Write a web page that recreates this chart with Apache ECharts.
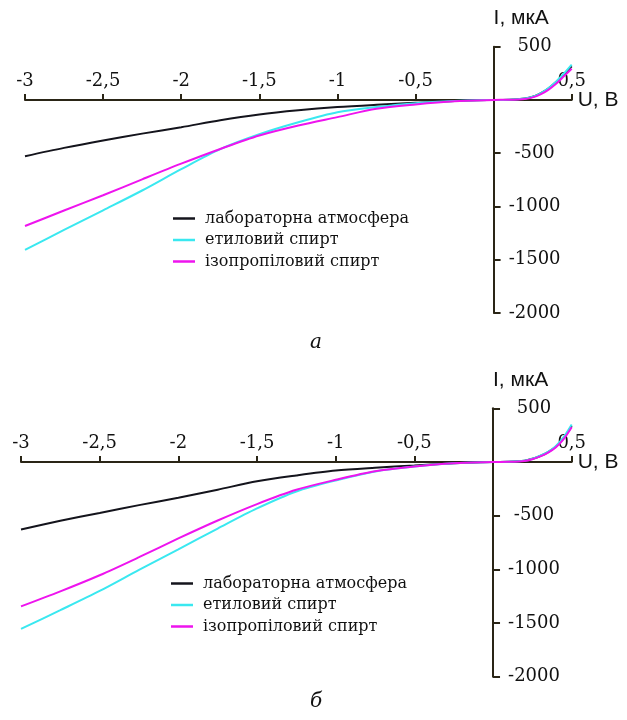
<!DOCTYPE html>
<html>
<head>
    <meta charset="utf-8">
    <title>ВАХ</title>
    <script src="https://cdn.jsdelivr.net/npm/echarts@6/dist/echarts.min.js"></script>
    <style>
        html, body { margin: 0; padding: 0; background: #fff; }
    </style>
</head>
<body>
    <div id="main" style="width: 627px;height:720px"></div>
    <script type="text/javascript">
        var myChart = echarts.init(document.getElementById('main'), null, { renderer: 'canvas' });

        // voltage, V
        var volts = [-3, -2.75, -2.5, -2.25, -2, -1.75, -1.5, -1.25, -1, -0.75, -0.5, -0.25, 0,
                     0.1, 0.2, 0.25, 0.3, 0.35, 0.4, 0.45, 0.5];

        var seriesNames = ['лабораторна атмосфера', 'етиловий спирт', 'ізопропіловий спирт'];
        var seriesColors = ['#14141c', '#3ae8f0', '#ee14ee'];

        // panel a, current, uA
        var labA = [-528, -450, -380, -316, -256, -190, -136, -97, -67, -45, -26, -9, 0,
                    2, 14, 30, 62, 108, 168, 240, 315];
        var ethA = [-1408, -1220, -1036, -850, -650, -462, -322, -210, -116, -67, -30, -10, 0,
                    2, 14, 30, 62, 110, 172, 248, 332];
        var isoA = [-1183, -1038, -895, -745, -598, -460, -333, -239, -161, -83, -42, -12, 0,
                    2, 10, 24, 52, 95, 152, 222, 293];

        // panel б, current, uA
        var labB = [-628, -548, -475, -402, -333, -258, -180, -126, -80, -54, -33, -12, 0,
                    2, 12, 30, 56, 92, 145, 225, 335];
        var ethB = [-1555, -1380, -1201, -1005, -813, -620, -433, -275, -172, -88, -42, -12, 0,
                    2, 12, 30, 58, 95, 150, 235, 350];
        var isoB = [-1345, -1205, -1055, -887, -712, -545, -392, -259, -166, -86, -42, -12, 0,
                    2, 10, 26, 52, 88, 138, 215, 324];

        var panelCaptions = ['а', 'б'];

        function pairs(values) {
            return volts.map(function (v, i) { return [v, values[i]]; });
        }

        var axisColor = '#2a2516';
        var serifFont = 'DejaVu Serif';
        var sansFont = 'Liberation Sans';

        // grids: both axes cross at the origin, so axes are shifted into the plot
        var grids = [
            { left: 25, width: 546.7, top: 46.7, height: 266.3, outerBoundsMode: 'none', containLabel: false },
            { left: 21, width: 550.7, top: 408.3, height: 268.4, outerBoundsMode: 'none', containLabel: false }
        ];

        function xShift(g) { return -g.height * 2000 / 2500; }  // bottom -> y = 0
        function yShift(g) { return -g.width * 3 / 3.5; }        // left -> x = 0

        function makeXAxis(idx) {
            return {
                gridIndex: idx,
                type: 'value',
                position: 'bottom',
                offset: xShift(grids[idx]),
                min: -3,
                max: 0.5,
                interval: 0.5,
                name: 'U, В',
                nameLocation: 'end',
                nameGap: 6,
                nameMoveOverlap: false,
                nameTextStyle: { fontFamily: sansFont, fontSize: 21, color: '#111', verticalAlign: 'middle' },
                axisLine: { onZero: false, lineStyle: { color: axisColor, width: 2 } },
                axisTick: { inside: true, length: 6, lineStyle: { color: axisColor, width: 2 } },
                axisLabel: {
                    inside: true,
                    margin: 10,
                    fontFamily: serifFont,
                    fontSize: 18,
                    color: '#111',
                    formatter: function (v) {
                        return v === 0 ? '' : String(v).replace('.', ',');
                    }
                },
                splitLine: { show: false }
            };
        }

        function makeYAxis(idx) {
            return {
                gridIndex: idx,
                type: 'value',
                position: 'left',
                offset: yShift(grids[idx]),
                min: -2000,
                max: 500,
                interval: 500,
                name: 'I, мкА',
                nameLocation: 'end',
                nameGap: 18,
                nameMoveOverlap: false,
                nameTextStyle: { fontFamily: sansFont, fontSize: 21, color: '#111', align: 'left' },
                axisLine: { onZero: false, lineStyle: { color: axisColor, width: 2 } },
                axisTick: { inside: true, length: 7, lineStyle: { color: axisColor, width: 2 } },
                axisLabel: {
                    inside: true,
                    margin: 41,
                    align: 'center',
                    fontFamily: serifFont,
                    fontSize: 18,
                    color: '#111',
                    formatter: function (v) {
                        return v === 0 ? '' : String(v);
                    }
                },
                splitLine: { show: false }
            };
        }

        function makeSeries(idx, lists) {
            return lists.map(function (vals, k) {
                return {
                    name: seriesNames[k],
                    type: 'line',
                    xAxisIndex: idx,
                    yAxisIndex: idx,
                    smooth: 0.3,
                    showSymbol: false,
                    symbol: 'none',
                    data: pairs(vals),
                    lineStyle: { color: seriesColors[k], width: 2 },
                    itemStyle: { color: seriesColors[k] }
                };
            });
        }

        function makeLegend(left, top) {
            return {
                orient: 'vertical',
                left: left,
                top: top,
                data: seriesNames,
                icon: 'rect',
                itemWidth: 22,
                itemHeight: 2.5,
                itemGap: 0.5,
                selectedMode: false,
                textStyle: {
                    fontFamily: serifFont,
                    fontSize: 16,
                    lineHeight: 21,
                    color: '#111',
                    padding: [0, 0, 0, 5]
                }
            };
        }

        option = {
            animation: false,
            backgroundColor: '#fff',
            grid: grids,
            xAxis: [makeXAxis(0), makeXAxis(1)],
            yAxis: [makeYAxis(0), makeYAxis(1)],
            legend: [makeLegend(168, 203), makeLegend(166, 568)],
            graphic: [
                {
                    type: 'text', left: 310, top: 333,
                    style: { text: panelCaptions[0], font: 'italic 20px "DejaVu Serif"', fill: '#111' }
                },
                {
                    type: 'text', left: 310, top: 692,
                    style: { text: panelCaptions[1], font: 'italic 20px "DejaVu Serif"', fill: '#111' }
                }
            ],
            series: makeSeries(0, [labA, ethA, isoA]).concat(makeSeries(1, [labB, ethB, isoB]))
        };

        myChart.setOption(option);
    </script>
</body>
</html>
